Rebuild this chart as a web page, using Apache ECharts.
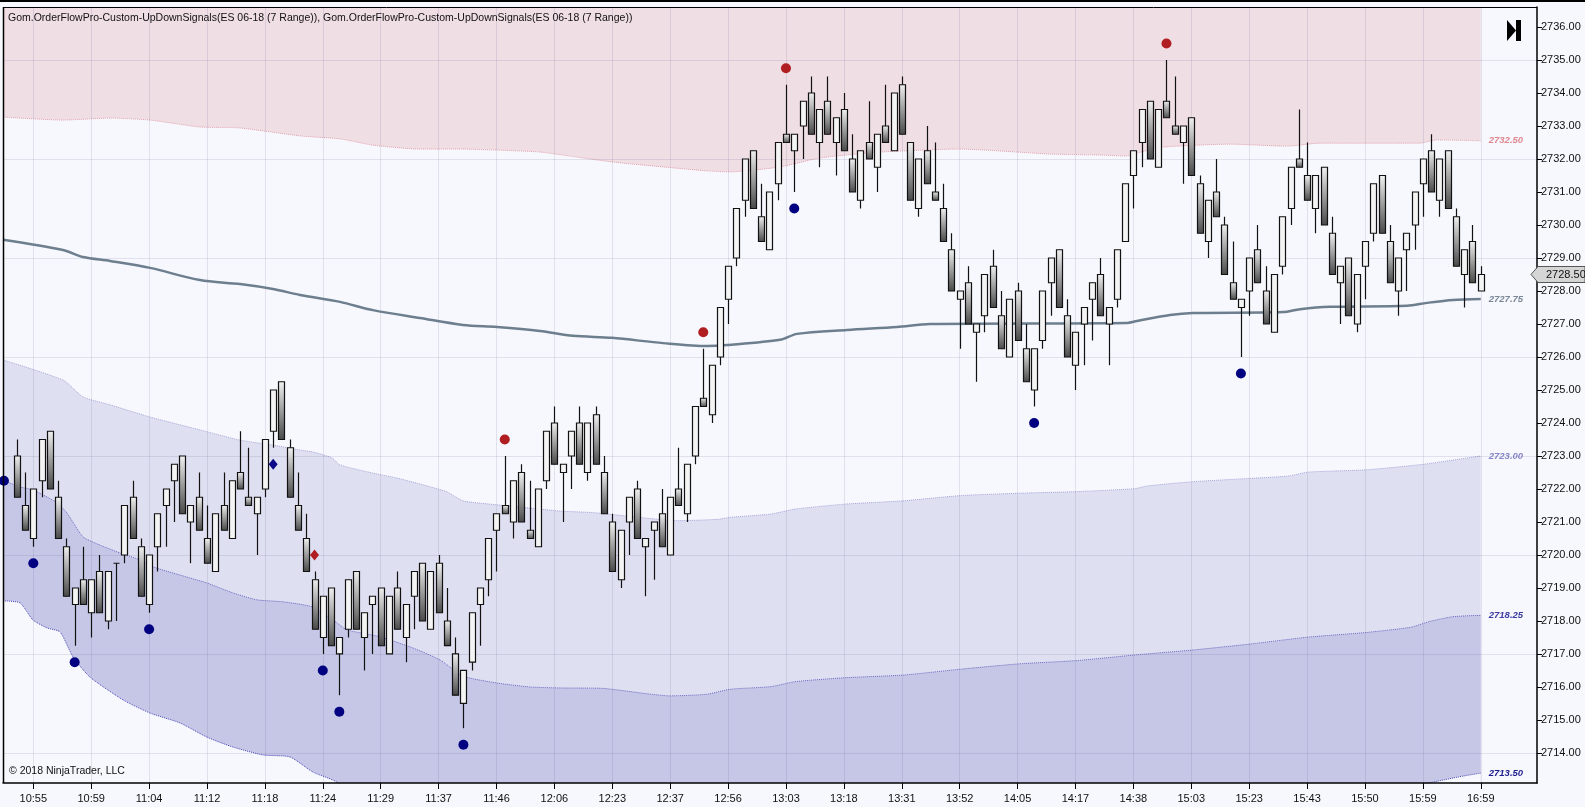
<!DOCTYPE html>
<html>
<head>
<meta charset="utf-8">
<title>ES 06-18 (7 Range)</title>
<script src="https://cdn.jsdelivr.net/npm/echarts@6/dist/echarts.min.js"></script>
<style>
html, body { margin: 0; padding: 0; background: #f7f8fd; }
#chart { width: 1585px; height: 807px; }
</style>
</head>
<body>
<div id="chart"></div>
<script>
// time labels sit every 7th range bar
var timeLabels = ['10:55','10:59','11:04','11:12','11:18','11:24','11:29','11:37','11:46','12:06','12:23','12:37','12:56',
  '13:03','13:18','13:31','13:52','14:05','14:17','14:38','15:03','15:23','15:43','15:50','15:59','16:59'];
var labelBars = [2, 9, 16, 23, 30, 37, 44, 51, 58, 65, 72, 79, 86, 93, 100, 107, 114, 121, 128, 135, 142, 149, 156, 163, 170, 177];
var priceTicks = [2714,2715,2716,2717,2718,2719,2720,2721,2722,2723,2724,2725,2726,2727,2728,2729,2730,2731,2732,2733,2734,2735,2736];
var gridPrices = [2714, 2717, 2720, 2723, 2726, 2729, 2732, 2735];

// range bars, 7 ticks
var opens = [
2723.0,2721.5,2720.5,2722.25,2723.75,2721.75,2720.25,2718.5,2719.25,2718.25,
2719.5,2718.0,2719.75,2720.0,2721.75,2720.25,2718.5,2720.25,2721.5,2722.25,
2723.0,2721.0,2721.75,2720.5,2719.5,2721.5,2720.5,2722.5,2721.75,2721.25,
2722.0,2723.75,2725.25,2723.25,2721.5,2720.5,2719.25,2717.5,2719.0,2717.0,
2717.75,2719.5,2717.5,2718.5,2719.0,2717.0,2719.0,2717.5,2718.75,2719.75,
2717.75,2719.75,2718.0,2717.0,2715.5,2716.75,2718.5,2719.25,2720.75,2721.5,
2721.0,2722.5,2720.75,2720.25,2722.25,2724.0,2722.5,2723.0,2724.0,2722.5,
2724.25,2722.5,2721.0,2719.25,2721.0,2722.0,2720.25,2720.75,2721.25,2720.0,
2722.0,2721.25,2723.0,2724.75,2724.25,2726.0,2727.75,2729.0,2730.75,2732.25,
2730.25,2729.25,2731.25,2732.75,2732.25,2733.0,2734.0,2732.5,2733.75,2732.5,
2733.5,2732.0,2730.75,2732.5,2731.75,2733.0,2732.25,2734.25,2732.5,2730.5,
2732.25,2731.0,2730.5,2729.25,2727.75,2728.25,2726.75,2727.25,2728.75,2727.25,
2726.0,2728.0,2726.25,2725.0,2726.5,2728.25,2729.25,2727.25,2725.75,2727.0,
2727.75,2728.5,2727.0,2727.75,2729.5,2731.5,2732.5,2733.75,2731.75,2733.75,
2733.0,2732.5,2733.25,2731.25,2729.5,2731.0,2730.0,2728.25,2727.5,2728.0,
2729.25,2728.0,2726.75,2728.75,2730.5,2732.0,2731.5,2730.5,2731.75,2729.75,
2728.25,2729.0,2727.0,2728.75,2729.75,2731.5,2729.5,2728.0,2729.25,2730.0,
2731.25,2732.25,2730.75,2732.25,2730.25,2728.5,2729.5,2728.0];
var closes = [
2721.75,2720.75,2722.0,2723.5,2722.0,2720.5,2718.75,2719.0,2718.5,2719.25,
2718.25,2719.5,2719.75,2721.5,2720.5,2718.75,2720.0,2721.25,2722.0,2722.75,
2721.25,2721.5,2720.75,2719.75,2721.25,2720.75,2722.25,2722.0,2721.5,2721.75,
2723.5,2725.0,2723.5,2721.75,2720.75,2719.5,2717.75,2718.75,2717.25,2717.5,
2719.25,2717.75,2718.25,2718.75,2717.25,2718.75,2717.75,2718.5,2719.5,2718.0,
2719.5,2718.25,2717.25,2715.75,2716.5,2718.25,2719.0,2720.5,2721.25,2721.25,
2722.25,2721.0,2720.5,2722.0,2723.75,2722.75,2722.75,2723.75,2722.75,2724.0,
2722.75,2721.25,2719.5,2720.75,2721.75,2720.5,2720.5,2721.0,2720.25,2721.75,
2721.5,2722.75,2724.5,2724.5,2725.75,2727.5,2728.75,2730.5,2732.0,2730.5,
2729.5,2731.0,2732.5,2732.5,2732.75,2733.75,2732.75,2733.5,2732.75,2733.25,
2732.25,2731.0,2732.25,2732.0,2732.75,2732.5,2734.0,2732.75,2730.75,2732.0,
2731.25,2730.75,2729.5,2728.0,2728.0,2727.0,2727.0,2728.5,2727.5,2726.25,
2727.75,2726.5,2725.25,2726.25,2728.0,2729.0,2727.5,2726.0,2726.75,2727.5,
2728.25,2727.25,2727.5,2729.25,2731.25,2732.25,2733.5,2732.0,2733.5,2733.25,
2732.75,2733.0,2731.5,2729.75,2730.75,2730.25,2728.5,2727.75,2727.75,2729.0,
2728.25,2727.0,2728.5,2730.25,2731.75,2731.75,2730.75,2731.5,2730.0,2728.5,
2728.75,2727.25,2728.5,2729.5,2731.25,2729.75,2728.25,2729.0,2729.75,2731.0,
2732.0,2731.0,2732.0,2730.5,2728.75,2729.25,2728.25,2728.5];
var lows = [
2721.75,2720.75,2720.25,2721.75,2722.0,2720.5,2718.75,2717.25,2718.5,2717.5,
2718.25,2717.75,2718.0,2719.75,2720.5,2718.75,2718.25,2719.5,2720.25,2721.0,
2721.25,2719.75,2720.75,2719.75,2719.5,2720.75,2720.5,2722.0,2721.5,2720.0,
2721.75,2723.25,2723.5,2721.75,2720.75,2719.5,2717.75,2717.0,2717.25,2715.75,
2717.5,2717.75,2716.5,2717.0,2717.25,2717.0,2717.75,2716.75,2717.75,2718.0,
2717.75,2718.25,2717.25,2715.75,2714.75,2716.5,2717.25,2718.75,2719.5,2721.25,
2720.5,2721.0,2720.5,2720.25,2722.0,2722.75,2721.0,2722.0,2722.75,2722.25,
2722.75,2721.25,2719.5,2719.0,2720.0,2720.5,2718.75,2719.25,2720.25,2720.0,
2721.5,2721.0,2722.75,2724.5,2724.0,2725.75,2727.0,2728.75,2730.25,2730.5,
2729.5,2729.25,2730.75,2732.5,2731.0,2732.0,2732.75,2731.75,2732.75,2731.5,
2732.25,2731.0,2730.5,2732.0,2731.0,2732.5,2732.25,2732.75,2730.75,2730.25,
2731.25,2730.75,2729.5,2728.0,2726.25,2727.0,2725.25,2726.75,2727.5,2726.25,
2726.0,2726.5,2725.25,2724.5,2726.25,2727.25,2727.5,2726.0,2725.0,2725.75,
2726.5,2727.25,2725.75,2727.5,2729.5,2730.5,2731.75,2732.0,2731.75,2733.25,
2732.75,2731.25,2731.5,2729.75,2729.0,2730.25,2728.5,2727.75,2726.0,2727.25,
2728.25,2727.0,2726.75,2728.5,2730.0,2731.75,2730.75,2729.75,2730.0,2728.5,
2727.0,2727.25,2726.75,2727.75,2729.5,2729.75,2728.25,2727.25,2728.0,2729.25,
2730.25,2731.0,2730.25,2730.5,2728.75,2727.5,2728.25,2728.0];
var highs = [
2723.5,2722.5,2722.0,2723.5,2723.75,2722.25,2720.5,2719.0,2720.25,2719.25,
2720.0,2719.5,2719.75,2721.5,2722.25,2720.5,2720.0,2721.25,2722.0,2722.75,
2723.0,2721.5,2722.5,2721.5,2721.25,2722.5,2722.25,2723.75,2723.25,2721.75,
2723.5,2725.0,2725.25,2723.5,2722.5,2721.25,2719.5,2718.75,2719.0,2717.5,
2719.25,2719.5,2718.25,2718.75,2719.0,2718.75,2719.5,2718.5,2719.5,2719.75,
2719.5,2720.0,2719.0,2717.5,2716.5,2718.25,2719.0,2720.5,2721.25,2723.0,
2722.25,2722.75,2722.25,2722.0,2723.75,2724.5,2722.75,2723.75,2724.5,2724.0,
2724.5,2723.0,2721.25,2720.75,2721.75,2722.25,2720.5,2721.0,2722.0,2721.75,
2723.25,2722.75,2724.5,2726.25,2725.75,2727.5,2728.75,2730.5,2732.0,2732.25,
2731.25,2731.0,2732.5,2734.25,2732.75,2733.75,2734.5,2733.5,2734.5,2733.25,
2734.0,2732.75,2732.25,2733.75,2732.75,2734.25,2734.0,2734.5,2732.5,2732.0,
2733.0,2732.5,2731.25,2729.75,2728.0,2728.75,2727.0,2728.5,2729.25,2728.0,
2727.75,2728.25,2727.0,2726.25,2728.0,2729.0,2729.25,2727.75,2726.75,2727.5,
2728.25,2729.0,2727.5,2729.25,2731.25,2732.25,2733.5,2733.75,2733.5,2735.0,
2734.5,2733.0,2733.25,2731.5,2730.75,2732.0,2730.25,2729.5,2727.75,2729.0,
2730.0,2728.75,2728.5,2730.25,2731.75,2733.5,2732.5,2731.5,2731.75,2730.25,
2728.75,2729.0,2728.5,2729.5,2731.25,2731.5,2730.0,2729.0,2729.75,2731.0,
2732.0,2732.75,2732.0,2732.25,2730.5,2729.25,2730.0,2728.75];

// bands, [bar position, price]
var pinkBand = [[-1.664,2733.27],[5.59,2733.18],[11.27,2733.24],[16.11,2733.18],[22.15,2732.97],[26.99,2732.94],
  [34.24,2732.70],[39.08,2732.61],[43.07,2732.42],[48.75,2732.30],[53.95,2732.30],[58.06,2732.27],[63.26,2732.21],
  [71.97,2731.91],[78.14,2731.76],[83.45,2731.64],[86.23,2731.61],[92.28,2731.76],[97.11,2732.03],[104.37,2732.21],
  [114.04,2732.30],[124.92,2732.15],[130.97,2732.12],[134.23,2732.09],[135.44,2732.18],[138.58,2732.36],
  [146.68,2732.45],[153.58,2732.39],[157.57,2732.48],[169.66,2732.48],[171.71,2732.58],[177,2732.55]];
var vwapLine = [[-1.664,2729.55],[5.59,2729.24],[8.01,2729.03],[11.27,2728.91],[16.11,2728.70],[22.15,2728.33],
  [26.99,2728.21],[30.98,2728.06],[34.24,2727.88],[39.08,2727.67],[43.07,2727.42],[48.75,2727.18],[53.95,2726.97],
  [58.06,2726.91],[63.26,2726.79],[67.25,2726.64],[71.97,2726.58],[78.14,2726.42],[83.45,2726.33],[85.87,2726.36],
  [92.28,2726.52],[94.33,2726.70],[100.38,2726.82],[106.42,2726.91],[110.41,2727.00],[134.23,2727.03],
  [135.44,2727.09],[139.43,2727.27],[142.21,2727.33],[153.09,2727.36],[155.15,2727.45],[158.78,2727.52],
  [168.09,2727.55],[170.50,2727.64],[173.65,2727.73],[177,2727.76]];
var lavBand = [[-1.664,2725.91],[5.59,2725.30],[8.01,2724.79],[11.27,2724.55],[16.11,2724.18],[22.15,2723.79],
  [26.99,2723.48],[30.98,2723.33],[34.24,2723.18],[35.82,2723.12],[38.11,2722.94],[39.08,2722.73],[43.07,2722.48],
  [45.97,2722.33],[48.75,2722.15],[52.02,2721.91],[53.95,2721.64],[58.06,2721.52],[62.05,2721.42],[65.68,2721.33],
  [69.91,2721.28],[76.32,2721.11],[79.82,2721.04],[84.78,2721.08],[86.23,2721.14],[91.19,2721.24],[94.09,2721.39],
  [100.14,2721.54],[107.15,2721.64],[114.16,2721.80],[121.17,2721.87],[128.19,2721.92],[135.20,2722.01],
  [136.65,2722.09],[142.21,2722.22],[149.10,2722.32],[153.70,2722.39],[156.12,2722.51],[163.13,2722.58],
  [170.14,2722.75],[177,2723.0]];
var midBand = [[-1.664,2722.27],[0.39,2722.06],[1.96,2721.97],[4.87,2721.58],[6.07,2721.27],[8.01,2720.55],
  [10.06,2720.30],[12.48,2720.06],[14.90,2719.85],[16.47,2719.64],[20.58,2719.33],[23.00,2719.15],[26.14,2718.85],
  [29.05,2718.64],[32.19,2718.58],[35.82,2718.42],[38.72,2717.94],[39.93,2717.73],[43.92,2717.52],[47.91,2717.18],
  [51.17,2716.82],[53.95,2716.33],[58.06,2716.12],[62.05,2716.00],[65.68,2715.97],[70.63,2715.96],[76.32,2715.79],
  [78.98,2715.73],[83.45,2715.78],[86.23,2715.93],[91.19,2716.01],[94.09,2716.16],[100.14,2716.28],[107.15,2716.36],
  [114.16,2716.54],[121.17,2716.70],[128.19,2716.80],[135.20,2716.97],[142.21,2717.12],[149.10,2717.30],
  [156.12,2717.51],[163.13,2717.65],[168.57,2717.81],[170.74,2717.98],[173.65,2718.13],[177,2718.17]];
var lowBand = [[-1.664,2718.61],[0.39,2718.55],[1.96,2718.03],[3.66,2717.79],[5.23,2717.67],[6.80,2716.91],
  [8.85,2716.30],[12.84,2715.61],[16.11,2715.21],[19.74,2714.91],[23.00,2714.48],[26.14,2714.18],[29.77,2713.94],
  [33.03,2713.88],[35.82,2713.42],[38.23,2713.18],[40.29,2712.88],[43.92,2712.55],[53.59,2711.36],[65.68,2710.61],
  [82.60,2710.55],[100.74,2711.0],[118.88,2711.42],[137.01,2711.97],[149.10,2712.27],[155.15,2712.48],
  [167.24,2712.91],[172.44,2713.18],[174.86,2713.30],[177,2713.39]];

// signals
var redDots = [[59,2723.5],[83,2726.75],[93,2734.75],[139,2735.5]];
var blueDots = [[-1.55,2722.25],[2,2719.75],[7,2716.75],[16,2717.75],[37,2716.5],[39,2715.25],[54,2714.25],
  [94,2730.5],[123,2724.0],[148,2725.5]];
var blueDiamonds = [[31,2722.75]];
var redDiamonds = [[36,2720.0]];

var BG = '#f7f8fd';
var FONT = "'Liberation Sans', Arial, sans-serif";

var bars = [];
for (var i = 0; i < opens.length; i++) {
  bars.push([i, opens[i], closes[i], lows[i], highs[i]]);
}

var downFill = new echarts.graphic.LinearGradient(0, 0, 0, 1, [
  { offset: 0, color: '#f2f2f2' },
  { offset: 1, color: '#474747' }
]);

function renderBar(params, api) {
  var x = api.value(0);
  var o = api.value(1), c = api.value(2);
  var pO = api.coord([x, o]);
  var pC = api.coord([x, c]);
  var pL = api.coord([x, api.value(3)]);
  var pH = api.coord([x, api.value(4)]);
  var w = 6;
  var top = Math.min(pO[1], pC[1]);
  var bot = Math.max(pO[1], pC[1]);
  var cx = Math.round(pO[0]) + 0.5;
  return {
    type: 'group',
    children: [
      { type: 'line', shape: { x1: cx, y1: pH[1], x2: cx, y2: pL[1] },
        style: { stroke: '#111', lineWidth: 1.2 } },
      { type: 'rect', shape: { x: cx - w / 2, y: top, width: w, height: bot - top },
        style: { fill: c < o ? downFill : '#f4f4f4', stroke: '#111', lineWidth: 1.2 } }
    ]
  };
}

function tickLabel(v) {
  return (Math.round(v * 4) / 4).toFixed(2);
}

function endLabel(color) {
  return {
    show: true, distance: 8, color: color, fontSize: 9.5, fontStyle: 'italic', fontWeight: 'bold',
    fontFamily: FONT,
    formatter: function (p) { return tickLabel(p.value[1]); }
  };
}

function band(data, lineColor, areaColor, origin, labelColor, z) {
  return {
    type: 'line', data: data, z: z, showSymbol: false, smooth: 0.2, silent: true,
    lineStyle: { color: lineColor, width: 1, type: 'dotted' },
    areaStyle: { color: areaColor, opacity: 1, origin: origin },
    endLabel: endLabel(labelColor)
  };
}

var chart = echarts.init(document.getElementById('chart'));

var option = {
  animation: false,
  backgroundColor: BG,
  grid: { left: 3, right: 48, top: 7, bottom: 24 },
  xAxis: {
    type: 'value', min: -1.664, max: 183.8, z: 1.5,
    axisLine: { show: true, onZero: false, lineStyle: { color: '#000', width: 1.5 } },
    axisTick: { show: true, length: 6, customValues: labelBars, lineStyle: { color: '#000' } },
    axisLabel: {
      customValues: labelBars, margin: 10, color: '#111', fontSize: 11, fontFamily: FONT,
      formatter: function (v) { return timeLabels[labelBars.indexOf(v)] || ''; }
    },
    splitLine: { show: true, lineStyle: { color: 'rgba(70,70,120,0.13)', width: 1 } }
  },
  yAxis: [{
    type: 'value', position: 'right', min: 2713.09, max: 2736.606, z: 1.5,
    axisLine: { show: true, onZero: false, lineStyle: { color: '#000', width: 1.5 } },
    axisTick: { show: true, length: 5, customValues: priceTicks, lineStyle: { color: '#000' } },
    axisLabel: {
      customValues: priceTicks, margin: 4, color: '#111', fontSize: 11, fontFamily: FONT,
      formatter: function (v) { return v.toFixed(2); }
    },
    splitLine: { show: false }
  }, {
    type: 'value', position: 'right', min: 2713.09, max: 2736.606, z: 1.5,
    axisLine: { show: false, onZero: false }, axisLabel: { show: false },
    axisTick: { show: false, customValues: gridPrices },
    splitLine: { show: true, lineStyle: { color: 'rgba(70,70,120,0.13)', width: 1 } }
  }],
  series: [
    band(lavBand, '#a6a6d8', '#dfdff2', 'start', '#8787c9', 1.1),
    band(midBand, '#6a6ac2', '#c6c7e7', 'start', '#3c3ca2', 1.2),
    band(lowBand, '#4646b6', BG, 'start', '#1c1c8c', 1.3),
    band(pinkBand, '#e3a2ab', '#f0dee5', 'end', '#df8890', 1.4),
    {
      type: 'line', data: vwapLine, z: 2.5, showSymbol: false, smooth: 0.3, silent: true,
      lineStyle: { color: '#6d7e8f', width: 2.5 },
      endLabel: endLabel('#7b8898')
    },
    {
      type: 'custom', data: bars, z: 3, renderItem: renderBar,
      encode: { x: 0, y: [1, 2, 3, 4] }
    },
    { type: 'scatter', data: redDots, z: 4, symbol: 'circle', symbolSize: 10, itemStyle: { color: '#b01e22', opacity: 1 } },
    { type: 'scatter', data: blueDots, z: 4, symbol: 'circle', symbolSize: 10, itemStyle: { color: '#000080', opacity: 1 } },
    { type: 'scatter', data: blueDiamonds, z: 4, symbol: 'diamond', symbolSize: [9, 11], itemStyle: { color: '#0a0a88', opacity: 1 } },
    { type: 'scatter', data: redDiamonds, z: 4, symbol: 'diamond', symbolSize: [9, 11], itemStyle: { color: '#b01e22', opacity: 1 } }
  ]
};

chart.setOption(option);

// current price tag on the price axis
var lastPrice = closes[closes.length - 1];
var py = chart.convertToPixel({ yAxisIndex: 0 }, lastPrice);

chart.setOption({
  graphic: [
    { type: 'rect', z: 10, shape: { x: 0, y: 0, width: 1585, height: 2 }, style: { fill: '#000' } },
    { type: 'line', z: 10, shape: { x1: 3.5, y1: 7, x2: 3.5, y2: 783 }, style: { stroke: '#000', lineWidth: 1.5 } },
    { type: 'line', z: 10, shape: { x1: 3, y1: 7.5, x2: 1537, y2: 7.5 }, style: { stroke: '#000', lineWidth: 1 } },
    {
      type: 'text', x: 8, y: 18, z: 10,
      style: {
        text: 'Gom.OrderFlowPro-Custom-UpDownSignals(ES 06-18 (7 Range)), Gom.OrderFlowPro-Custom-UpDownSignals(ES 06-18 (7 Range))',
        fill: '#111', font: '10.5px ' + FONT, textVerticalAlign: 'middle'
      }
    },
    {
      type: 'text', x: 9, y: 771, z: 10,
      style: { text: '\u00a9 2018 NinjaTrader, LLC', fill: '#111', font: '10.5px ' + FONT, textVerticalAlign: 'middle' }
    },
    { type: 'polygon', z: 10, shape: { points: [[1507, 20], [1516, 30.5], [1507, 41]] }, style: { fill: '#000' } },
    { type: 'rect', z: 10, shape: { x: 1516, y: 20, width: 5, height: 21 }, style: { fill: '#000' } },
    {
      type: 'polygon', z: 10,
      shape: { points: [[1531, py], [1538, py - 8], [1585, py - 8], [1585, py + 8], [1538, py + 8]] },
      style: { fill: '#d5d5d5', stroke: '#555', lineWidth: 1 }
    },
    {
      type: 'text', x: 1546, y: py, z: 11,
      style: { text: lastPrice.toFixed(2), fill: '#111', font: '11px ' + FONT, textVerticalAlign: 'middle' }
    }
  ]
});
</script>
</body>
</html>
